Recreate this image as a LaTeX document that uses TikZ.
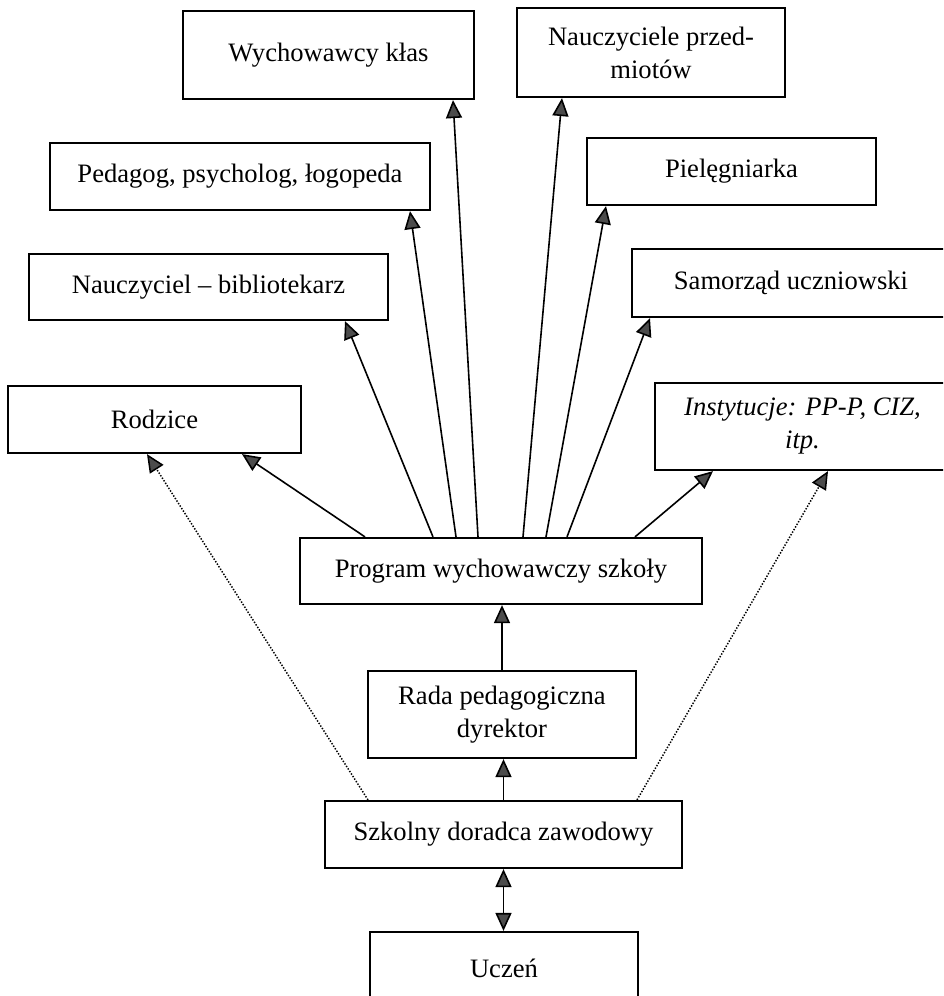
\documentclass[tikz,border=0pt]{standalone}
\usepackage{fontspec}
\setmainfont{Liberation Serif}
\usepackage{tikz}
\usetikzlibrary{arrows.meta,calc}
\tikzstyle{block}=[draw,rectangle,line width=2.2pt,inner sep=2pt,align=center,font=\fontsize{26.6pt}{33pt}\selectfont]
\tikzstyle{link}=[line width=1.6pt,->]
\tikzstyle{hint}=[line width=1.5pt,dash pattern=on 1.4pt off 1.6pt,->]

\begin{document}
\begin{tikzpicture}[x=1pt,y=-1pt,>={Triangle[length=18pt,width=16pt,fill=black!70]}]
\useasboundingbox (0,0) rectangle (943,996);
\clip (0,0) rectangle (943,996);
\node[block,minimum width=291pt,minimum height=88pt] (wych) at (328.5,55) {Wychowawcy kłas};
\node[block,minimum width=268pt,minimum height=89pt] (naucz) at (651,52.5) {Nauczyciele przed-\\miotów};
\node[block,minimum width=380pt,minimum height=67pt] (pedag) at (240,176.5) {Pedagog, psycholog, łogopeda};
\node[block,minimum width=289pt,minimum height=67pt] (piel) at (731.5,171.5) {Pielęgniarka};
\node[block,minimum width=359pt,minimum height=66pt] (bibl) at (208.5,287) {Nauczyciel – bibliotekarz};
\node[block,minimum width=318pt,minimum height=68pt] (samorz) at (791,283) {Samorząd uczniowski};
\node[block,minimum width=293pt,minimum height=67pt] (rodz) at (154.5,419.5) {Rodzice};
\node[block,minimum width=295pt,minimum height=87pt,font=\fontsize{26.6pt}{33pt}\selectfont\itshape] (inst) at (802.5,426.5) {Instytucje: PP-P, CIZ,\\itp.};
\node[block,minimum width=402pt,minimum height=66pt] (prog) at (501,571) {Program wychowawczy szkoły};
\node[block,minimum width=268pt,minimum height=87pt] (rada) at (502,714.5) {Rada pedagogiczna\\dyrektor};
\node[block,minimum width=357pt,minimum height=67pt] (szk) at (503.5,834.5) {Szkolny doradca zawodowy};
\node[block,minimum width=268pt,minimum height=72pt] (ucz) at (504,968) {Uczeń};

\draw[link] ([xshift=-136pt]prog.north) -- ([xshift=87.5pt]rodz.south);
\draw[link] ([xshift=-68pt]prog.north) -- ([xshift=136.5pt]bibl.south);
\draw[link] ([xshift=-45pt]prog.north) -- ([xshift=170pt]pedag.south);
\draw[link] ([xshift=-23pt]prog.north) -- ([xshift=124.5pt]wych.south);
\draw[link] ([xshift=22pt]prog.north) -- ([xshift=-89pt]naucz.south);
\draw[link] ([xshift=45pt]prog.north) -- ([xshift=-125.5pt]piel.south);
\draw[link] ([xshift=66pt]prog.north) -- ([xshift=-141pt]samorz.south);
\draw[link] ([xshift=134pt]prog.north) -- ([xshift=-89.5pt]inst.south);
\draw[hint] ([xshift=-135.5pt]szk.north) -- ([xshift=-7.5pt]rodz.south);
\draw[hint] ([xshift=133.5pt]szk.north) -- ([xshift=25.5pt]inst.south);
\draw[link] (rada.north) -- (rada.north |- prog.south);
\draw[link] (szk.north) -- (szk.north |- rada.south);
\draw[link,<->] (szk.south) -- (szk.south |- ucz.north);
\end{tikzpicture}
\end{document}
